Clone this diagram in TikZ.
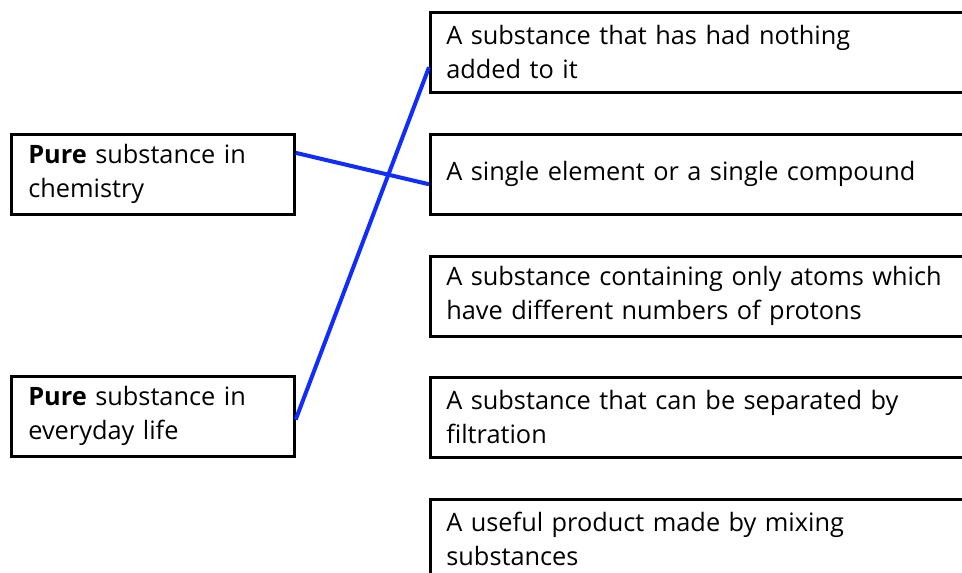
\documentclass[tikz,border=0pt]{standalone}
\usepackage{fontspec}
\setmainfont{Open Sans}
\usetikzlibrary{calc}
\definecolor{matchblue}{RGB}{16,44,255}
\begin{document}
\begin{tikzpicture}[x=0.75pt,y=-0.75pt,
  term/.style={draw,line width=2pt,anchor=north west,minimum width=212.25pt,minimum height=60pt,
    text width=186.75pt,inner xsep=12.75pt,align=left,font=\fontsize{19}{25.5}\selectfont},
  meaning/.style={term,minimum width=480pt,text width=456pt,inner xsep=12pt},
  match/.style={matchblue,line width=3pt}]
\useasboundingbox (0,0) rectangle (962,572);
\clip (0,0) rectangle (962,572);
\node[term] (chem) at (10,133) {\textbf{Pure} substance in\\chemistry};
\node[term] (life) at (10,375) {\textbf{Pure} substance in\\everyday life};

\node[meaning] (nothing) at (429,11) {A substance that has had nothing\\added to it};
\node[meaning] (single) at (429,133) {A single element or a single compound};
\node[meaning] (protons) at (429,255) {A substance containing only atoms which\\have different numbers of protons};
\node[meaning] (filter) at (429,376) {A substance that can be separated by\\filtration};
\node[meaning] (mixing) at (429,498) {A useful product made by mixing\\substances};

\draw[match] ($(chem.north east)!0.24!(chem.south east)$) -- ($(single.north west)!0.62!(single.south west)$);
\draw[match] ($(life.north east)!0.54!(life.south east)$) -- ($(nothing.north west)!0.68!(nothing.south west)$);
\end{tikzpicture}
\end{document}
